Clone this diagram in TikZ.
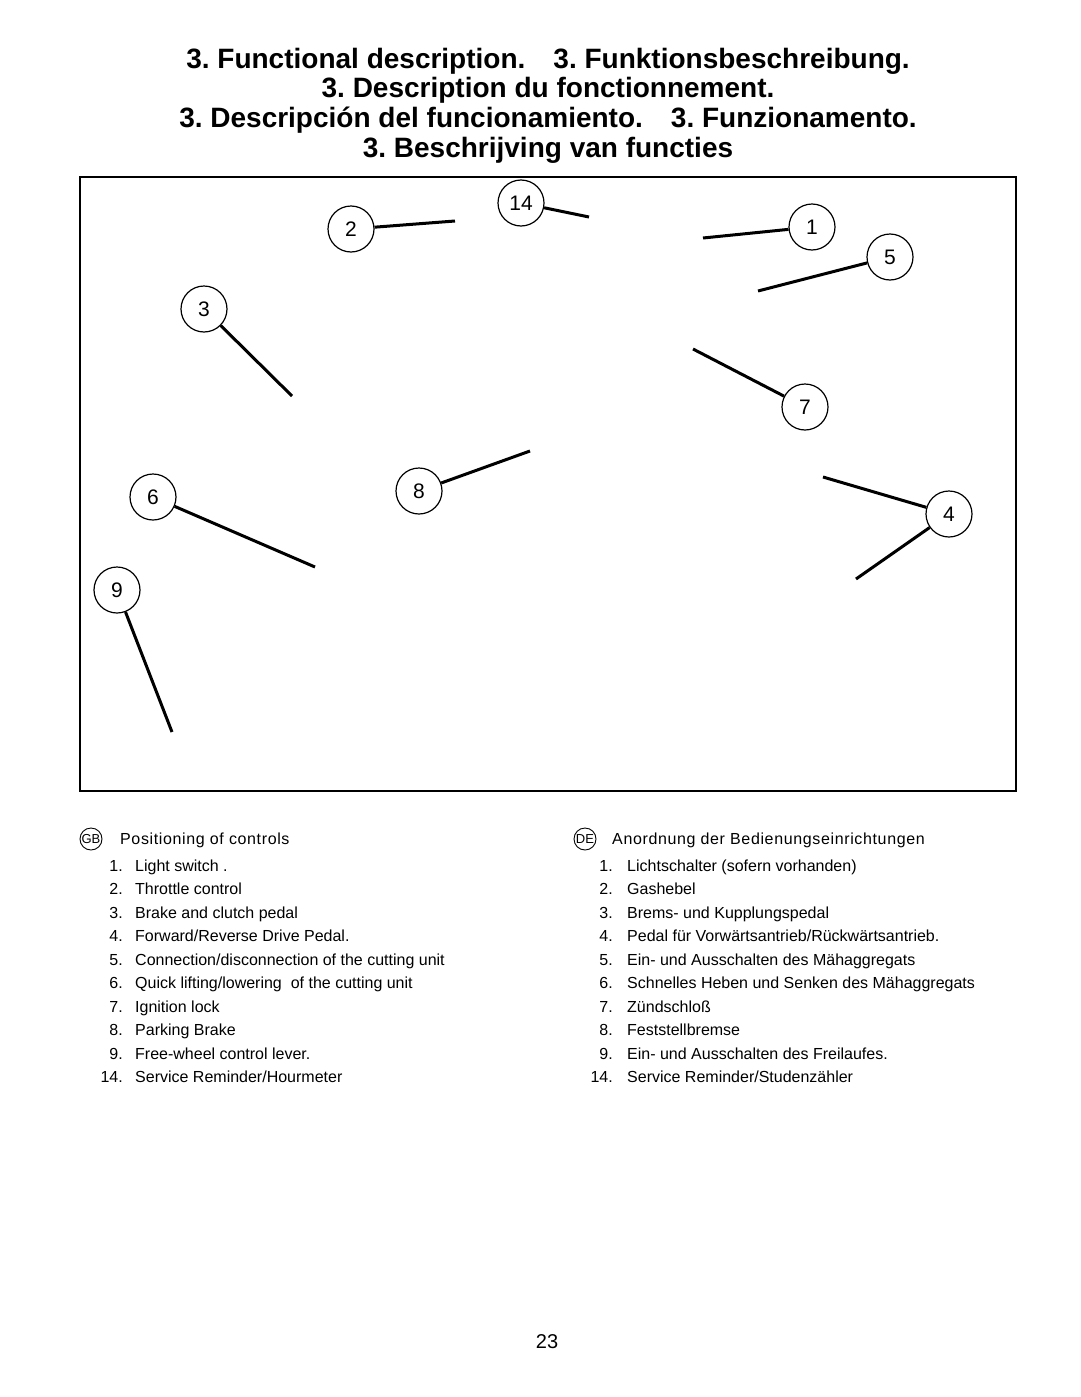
\documentclass[tikz,border=0pt]{standalone}
\usepackage{fontspec}
\setmainfont{Liberation Sans}
\usepackage{graphicx}

\begin{document}
\frenchspacing
\begin{tikzpicture}[x=1pt, y=-1pt,
    headline/.style={anchor=base, inner sep=0pt, font=\fontsize{28}{30}\selectfont\bfseries},
    callout/.style={circle, draw=black, line width=1.2pt, fill=white, minimum size=46pt, inner sep=0pt, font=\fontsize{21}{24}\selectfont},
    leader/.style={line width=3pt},
    flag/.style={circle, draw=black, line width=0.9pt, minimum size=22pt, inner sep=0pt, font=\fontsize{13}{14}\selectfont},
    heading/.style={anchor=base west, inner sep=0pt, font=\fontsize{16}{18}\selectfont\addfontfeature{LetterSpace=4}},
    itemnum/.style={anchor=base east, inner sep=0pt, font=\fontsize{16}{18}\selectfont},
    itemtext/.style={anchor=base west, inner sep=0pt, font=\fontsize{16}{18}\selectfont}
   ]
  \useasboundingbox (0,0) rectangle (1080,1397);

  % title
  \node[headline] (title1) at (548,68.5) {3. Functional description.\quad 3. Funktionsbeschreibung.};
  \node[headline] (title2) at (548,97.5) {3. Description du fonctionnement.};
  \node[headline] (title3) at (548,127.5) {3. Descripción del funcionamiento.\quad 3. Funzionamento.};
  \node[headline] (title4) at (548,157.5) {3. Beschrijving van functies};

  % picture frame
  \draw[line width=2pt] (80,177) rectangle (1016,791);

  % callouts
  \coordinate (end14) at (589,217);
  \coordinate (end2) at (455,221);
  \coordinate (end1) at (703,238);
  \coordinate (end5) at (758,291);
  \coordinate (end3) at (292,396);
  \coordinate (end7) at (693,349);
  \coordinate (end8) at (530,451);
  \coordinate (end6) at (315,567);
  \coordinate (end4a) at (823,477);
  \coordinate (end4b) at (856,579);
  \coordinate (end9) at (172,732);

  \node[callout] (c14) at (521,203) {14};
  \node[callout] (c2)  at (351,229) {2};
  \node[callout] (c1)  at (812,227) {1};
  \node[callout] (c5)  at (890,257) {5};
  \node[callout] (c3)  at (204,309) {3};
  \node[callout] (c7)  at (805,407) {7};
  \node[callout] (c8)  at (419,491) {8};
  \node[callout] (c6)  at (153,497) {6};
  \node[callout] (c4)  at (949,514) {4};
  \node[callout] (c9)  at (117,590) {9};

  \draw[leader] (c14) -- (end14);
  \draw[leader] (c2) -- (end2);
  \draw[leader] (c1) -- (end1);
  \draw[leader] (c5) -- (end5);
  \draw[leader] (c3) -- (end3);
  \draw[leader] (c7) -- (end7);
  \draw[leader] (c8) -- (end8);
  \draw[leader] (c6) -- (end6);
  \draw[leader] (c4) -- (end4a);
  \draw[leader] (c4) -- (end4b);
  \draw[leader] (c9) -- (end9);

  % english list
  \node[flag] (gb) at (91,839) {GB};
  \node[heading] (gbhead) at (120,844.5) {Positioning of controls};
  \node[itemnum] (gbn1)  at (123,871.5)  {1.};
  \node[itemtext] (gbt1) at (135,871.5)  {Light switch .};
  \node[itemnum] (gbn2)  at (123,894.9)  {2.};
  \node[itemtext] (gbt2) at (135,894.9)  {Throttle control};
  \node[itemnum] (gbn3)  at (123,918.4)  {3.};
  \node[itemtext] (gbt3) at (135,918.4)  {Brake and clutch pedal};
  \node[itemnum] (gbn4)  at (123,941.8)  {4.};
  \node[itemtext] (gbt4) at (135,941.8)  {Forward/Reverse Drive Pedal.};
  \node[itemnum] (gbn5)  at (123,965.3)  {5.};
  \node[itemtext] (gbt5) at (135,965.3)  {Connection/disconnection of the cutting unit};
  \node[itemnum] (gbn6)  at (123,988.7)  {6.};
  \node[itemtext] (gbt6) at (135,988.7)  {Quick lifting/lowering\ \ of the cutting unit};
  \node[itemnum] (gbn7)  at (123,1012.1) {7.};
  \node[itemtext] (gbt7) at (135,1012.1) {Ignition lock};
  \node[itemnum] (gbn8)  at (123,1035.6) {8.};
  \node[itemtext] (gbt8) at (135,1035.6) {Parking Brake};
  \node[itemnum] (gbn9)  at (123,1059.0) {9.};
  \node[itemtext] (gbt9) at (135,1059.0) {Free-wheel control lever.};
  \node[itemnum] (gbn14) at (123,1082.5) {14.};
  \node[itemtext] (gbt14) at (135,1082.5) {Service Reminder/Hourmeter};

  % german list
  \node[flag] (de) at (585,839) {DE};
  \node[heading] (dehead) at (612,844.5) {Anordnung der Bedienungseinrichtungen};
  \node[itemnum] (den1)  at (613,871.5)  {1.};
  \node[itemtext] (det1) at (627,871.5)  {Lichtschalter (sofern vorhanden)};
  \node[itemnum] (den2)  at (613,894.9)  {2.};
  \node[itemtext] (det2) at (627,894.9)  {Gashebel};
  \node[itemnum] (den3)  at (613,918.4)  {3.};
  \node[itemtext] (det3) at (627,918.4)  {Brems- und Kupplungspedal};
  \node[itemnum] (den4)  at (613,941.8)  {4.};
  \node[itemtext] (det4) at (627,941.8)  {Pedal für Vorwärtsantrieb/Rückwärtsantrieb.};
  \node[itemnum] (den5)  at (613,965.3)  {5.};
  \node[itemtext] (det5) at (627,965.3)  {Ein- und Ausschalten des Mähaggregats};
  \node[itemnum] (den6)  at (613,988.7)  {6.};
  \node[itemtext] (det6) at (627,988.7)  {Schnelles Heben und Senken des Mähaggregats};
  \node[itemnum] (den7)  at (613,1012.1) {7.};
  \node[itemtext] (det7) at (627,1012.1) {Zündschloß};
  \node[itemnum] (den8)  at (613,1035.6) {8.};
  \node[itemtext] (det8) at (627,1035.6) {Feststellbremse};
  \node[itemnum] (den9)  at (613,1059.0) {9.};
  \node[itemtext] (det9) at (627,1059.0) {Ein- und Ausschalten des Freilaufes.};
  \node[itemnum] (den14) at (613,1082.5) {14.};
  \node[itemtext] (det14) at (627,1082.5) {Service Reminder/Studenzähler};

  % page number
  \node[font=\fontsize{20}{24}\selectfont] (pagenum) at (547,1342) {23};
\end{tikzpicture}
\end{document}
